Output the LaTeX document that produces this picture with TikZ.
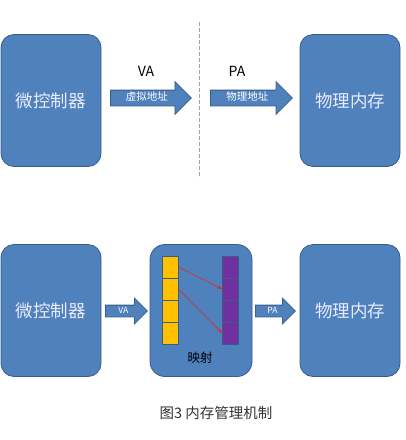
\documentclass[tikz,border=0pt]{standalone}
\usepackage{fontspec}
\setmainfont{Noto Sans CJK SC}
\usetikzlibrary{arrows.meta, positioning, shapes.arrows}

\definecolor{boxblue}{HTML}{4F81BD}
\definecolor{boxline}{HTML}{385D8A}
\definecolor{cellyellow}{HTML}{FFC000}
\definecolor{cellpurple}{HTML}{7030A0}
\definecolor{maparrow}{HTML}{E8281E}
\definecolor{captiongray}{HTML}{333333}

\begin{document}
\begin{tikzpicture}[
    x=1pt, y=-1pt,
    unit/.style={rectangle, draw=boxline, fill=boxblue, thick, rounded corners=13pt,
        minimum width=100pt, minimum height=132pt, text=white!92!blue,
        font=\fontsize{17.5}{17.5}\selectfont},
    bigarrow/.style={single arrow, draw=boxline, fill=boxblue, thick, text=white,
        anchor=tail, single arrow head extend=8.5pt, inner xsep=2pt, inner ysep=2.5pt,
        text height=7.5pt, text depth=2.5pt, minimum height=81pt,
        font=\fontsize{10.5}{10.5}\selectfont},
    smallarrow/.style={bigarrow, single arrow head extend=7pt, inner ysep=1.5pt,
        text height=6pt, text depth=2pt, minimum height=41pt,
        font=\fontsize{8.5}{8.5}\selectfont},
    ycell/.style={rectangle, draw=boxline, fill=cellyellow, thick,
        minimum width=16pt, minimum height=22pt, inner sep=0pt},
    pcell/.style={ycell, fill=cellpurple},
    maplink/.style={-{Stealth[length=5pt, width=3.5pt]}, draw=maparrow, semithick}
    ]
    \useasboundingbox (0,0) rectangle (406,440);

    % Top row: direct addressing
    \node[unit] (mcu1) at (51,100.5) {微控制器};
    \node[unit] (mem1) at (350,100.5) {物理内存};
    \node[bigarrow] (va1) at (110,98) {虚拟地址};
    \node[bigarrow, minimum height=82pt] (pa1) at (210,98) {物理地址};
    \node[font=\fontsize{14}{14}\selectfont] (valabel) at (146,71) {VA};
    \node[font=\fontsize{14}{14}\selectfont] (palabel) at (237,71) {PA};

    % Separator
    \coordinate (septop) at (199.5,22);
    \coordinate (sepbot) at (199.5,178);
    \draw[gray!75, line width=1.3pt, dash pattern=on 4pt off 2pt] (septop) -- (sepbot);

    % Bottom row: with mapping
    \node[unit] (mcu2) at (51,310.5) {微控制器};
    \node[unit] (mem2) at (350,310.5) {物理内存};
    \node[unit, minimum width=102pt, rounded corners=15pt] (mmu) at (201,310.5) {};
    \node[text=black, font=\fontsize{12.5}{12.5}\selectfont] (maplabel) at (200,358) {映射};
    \node[smallarrow, minimum height=42pt] (va2) at (105,311) {VA};
    \node[smallarrow, minimum height=40pt] (pa2) at (255,311) {PA};

    % Page tables
    \foreach \i in {1,...,4} {
        \node[ycell] (y\i) at (170,{267+22*(\i-1)}) {};
        \node[pcell] (p\i) at (230.5,{267+22*(\i-1)}) {};
    }
    \draw[maplink] (y1.east) -- (p2.west);
    \draw[maplink] (y2.east) -- (p4.west);

    % Caption
    \node[text=captiongray, font=\fontsize{14.5}{14.5}\selectfont] (caption) at (216,413) {图3 内存管理机制};
\end{tikzpicture}
\end{document}
